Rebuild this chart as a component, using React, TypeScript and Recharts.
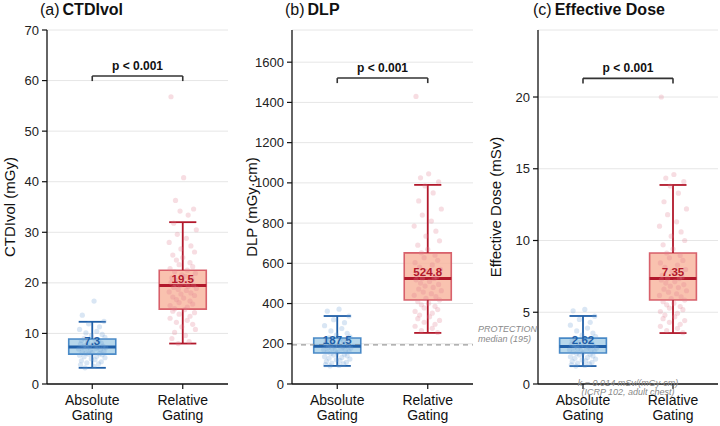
import { ScatterChart, Scatter, XAxis, YAxis, CartesianGrid, ReferenceArea, ReferenceLine, ReferenceDot } from 'recharts';

const groups = ['Absolute Gating', 'Relative Gating'];

// (a) CTDIvol, mGy
const ctdiAbsolute = [16.4, 13.6, 12.4, 11.9, 11.3, 10.8, 10.4, 10.1, 9.8, 9.5, 9.2, 9.0, 8.8, 8.6, 8.5, 8.3, 8.1, 7.9, 7.8, 7.6, 7.5, 7.4, 7.3, 7.3, 7.2, 7.1, 7.0, 6.9, 6.8, 6.7, 6.5, 6.4, 6.2, 6.1, 6.0, 5.9, 5.8, 5.7, 5.5, 5.4, 5.2, 5.0, 4.8, 4.6, 4.4, 4.2, 4.0, 3.8, 3.5, 3.2];
const ctdiRelative = [56.8, 40.8, 36.3, 34.6, 34.2, 33.4, 31.8, 30.5, 29.6, 28.8, 28.0, 27.3, 26.7, 26.1, 25.5, 25.0, 24.5, 24.0, 23.6, 23.2, 22.8, 22.5, 22.2, 21.9, 21.6, 21.3, 21.0, 20.8, 20.5, 20.3, 20.1, 19.9, 19.7, 19.5, 19.5, 19.3, 19.1, 18.9, 18.7, 18.5, 18.2, 18.0, 17.8, 17.5, 17.2, 17.0, 16.7, 16.4, 16.1, 15.8, 15.5, 15.2, 14.9, 14.7, 14.4, 14.1, 13.8, 13.4, 13.0, 12.6, 12.2, 11.8, 11.3, 10.8, 10.2, 9.6, 9.0, 8.4, 8.0];
// min, q1, median, q3, max
const ctdiBoxAbsolute = [3.2, 5.9, 7.3, 8.9, 12.3];
const ctdiBoxRelative = [8.0, 14.8, 19.5, 22.5, 32.0];
const ctdiTicks = [0, 10, 20, 30, 40, 50, 60, 70];

// (b) DLP, mGy·cm
const dlpAbsolute = [372, 362, 338, 320, 305, 290, 276, 264, 252, 243, 235, 229, 224, 218, 212, 207, 202, 198, 194, 191, 188, 187, 185, 182, 179, 176, 173, 170, 167, 164, 161, 158, 155, 152, 148, 144, 140, 136, 132, 128, 124, 120, 116, 112, 108, 104, 100, 96, 92, 90];
const dlpRelative = [1430, 1045, 1025, 1005, 985, 950, 910, 870, 840, 810, 785, 760, 735, 712, 690, 670, 652, 640, 628, 615, 603, 592, 581, 570, 560, 550, 541, 533, 525, 525, 518, 510, 502, 495, 487, 480, 472, 464, 457, 449, 441, 434, 426, 418, 410, 402, 394, 386, 378, 370, 361, 352, 343, 334, 325, 316, 307, 297, 287, 277, 266, 256];
const dlpBoxAbsolute = [90, 154, 187.5, 229, 338];
const dlpBoxRelative = [254, 418, 524.8, 652, 990];
const dlpTicks = [0, 200, 400, 600, 800, 1000, 1200, 1400, 1600];
const dlpProtectionMedian = 195;

// (c) Effective dose, mSv
const edAbsolute = [5.2, 5.1, 4.73, 4.5, 4.3, 4.1, 3.9, 3.7, 3.55, 3.4, 3.3, 3.2, 3.13, 3.05, 2.97, 2.9, 2.83, 2.77, 2.72, 2.67, 2.63, 2.62, 2.59, 2.55, 2.51, 2.46, 2.42, 2.38, 2.34, 2.3, 2.25, 2.21, 2.17, 2.13, 2.07, 2.02, 1.96, 1.9, 1.85, 1.79, 1.74, 1.68, 1.62, 1.57, 1.51, 1.46, 1.4, 1.34, 1.29, 1.25];
const edRelative = [20.0, 14.6, 14.35, 14.1, 13.8, 13.3, 12.7, 12.2, 11.8, 11.3, 11.0, 10.6, 10.3, 10.0, 9.7, 9.4, 9.13, 8.96, 8.79, 8.61, 8.44, 8.29, 8.13, 7.98, 7.84, 7.7, 7.57, 7.46, 7.35, 7.35, 7.25, 7.14, 7.03, 6.93, 6.82, 6.72, 6.61, 6.5, 6.4, 6.29, 6.17, 6.08, 5.96, 5.85, 5.74, 5.63, 5.52, 5.4, 5.29, 5.18, 5.05, 4.93, 4.8, 4.68, 4.55, 4.42, 4.3, 4.16, 4.02, 3.88, 3.72, 3.58];
const edBoxAbsolute = [1.25, 2.16, 2.62, 3.2, 4.74];
const edBoxRelative = [3.55, 5.85, 7.35, 9.13, 13.87];
const edTicks = [0, 5, 10, 15, 20];

// horizontal jitter for the strip points (layout only)
const JITTER = [0.02, -0.11, 0.13, -0.04, 0.08, -0.14, 0.05, -0.07, 0.11, -0.01, 0.14, -0.09, 0.03, -0.12, 0.07, -0.05, 0.1, -0.13, 0.01, -0.08, 0.12, -0.03, 0.06, -0.1, 0.15, -0.06, 0.04, -0.15, 0.09, -0.02, 0.13, -0.11, 0.0, -0.07, 0.08, -0.04, 0.11, -0.14, 0.05, -0.09, 0.14, -0.01, 0.03, -0.12, 0.1, -0.06, 0.07, -0.13, 0.02, -0.08, 0.12, -0.03, 0.06, -0.1, 0.15, -0.05, 0.04, -0.15, 0.09, -0.02, 0.13, -0.11, 0.01, -0.07, 0.08, -0.04, 0.11, -0.14, 0.05, -0.09];

const BLUE = { fill: '#a4cde6', stroke: '#3a7fc2', dark: '#1f5fa8', point: '#6c9fd4' };
const RED = { fill: '#f7b39b', stroke: '#d4525f', dark: '#b2182b', point: '#e07d8e' };
const FONT = '"Liberation Sans", Arial, sans-serif';

const HALF_BOX = 0.26;
const HALF_CAP = 0.15;

function boxElements(x: number, box: number[], c: typeof BLUE, label: string, key: string) {
  const [lo, q1, med, q3, hi] = box;
  return [
    <ReferenceArea key={key + 'box'} x1={x - HALF_BOX} x2={x + HALF_BOX} y1={q1} y2={q3} fill={c.fill} fillOpacity={0.8} stroke={c.stroke} strokeWidth={1.6} strokeOpacity={0.9} />,
    <ReferenceLine key={key + 'wl'} segment={[{ x, y: lo }, { x, y: q1 }]} stroke={c.dark} strokeWidth={1.8} />,
    <ReferenceLine key={key + 'wh'} segment={[{ x, y: q3 }, { x, y: hi }]} stroke={c.dark} strokeWidth={1.8} />,
    <ReferenceLine key={key + 'cl'} segment={[{ x: x - HALF_CAP, y: lo }, { x: x + HALF_CAP, y: lo }]} stroke={c.dark} strokeWidth={1.8} />,
    <ReferenceLine key={key + 'ch'} segment={[{ x: x - HALF_CAP, y: hi }, { x: x + HALF_CAP, y: hi }]} stroke={c.dark} strokeWidth={1.8} />,
    <ReferenceLine key={key + 'md'} segment={[{ x: x - HALF_BOX, y: med }, { x: x + HALF_BOX, y: med }]} stroke={c.dark} strokeWidth={3} />,
    <ReferenceDot key={key + 'lb'} x={x} y={med} r={0} stroke="none" fill="none"
      label={{ value: label, position: 'top', offset: 2.5, fill: c.dark, fontSize: 11.5, fontWeight: 'bold' }} />,
  ];
}

function GroupTick(props: any) {
  const { x, y, payload } = props;
  const [a, b] = groups[payload.value].split(' ');
  return (
    <text x={x} y={y} textAnchor="middle" fontSize={14} fill="#111">
      <tspan x={x} dy={14}>{a}</tspan>
      <tspan x={x} dy={15}>{b}</tspan>
    </text>
  );
}

type PanelProps = {
  left: number;
  width: number;
  yWidth: number;
  marginLeft: number;
  marginRight: number;
  domain: number[];
  ticks: number[];
  absVals: number[];
  relVals: number[];
  absBox: number[];
  relBox: number[];
  labels: string[];
  bracketY: number;
  bracketDrop: number;
  extra?: any;
};

function Panel(p: PanelProps) {
  const absPts = p.absVals.map((v, i) => ({ x: JITTER[i % JITTER.length], y: v }));
  const relPts = p.relVals.map((v, i) => ({ x: 1 + JITTER[(i + 17) % JITTER.length], y: v }));
  return (
    <div style={{ position: 'absolute', left: p.left, top: 0 }}>
      <ScatterChart width={p.width} height={426} margin={{ top: 30, right: p.marginRight, bottom: 6, left: p.marginLeft }}>
        <CartesianGrid vertical={false} stroke="#e6e6e6" strokeWidth={1} />
        <XAxis type="number" dataKey="x" domain={[-0.5, 1.5]} ticks={[0, 1]} interval={0} height={36}
          axisLine={{ stroke: '#111', strokeWidth: 1.3 }} tickLine={{ stroke: '#111', strokeWidth: 1.2 }} tickSize={5}
          tick={<GroupTick />} allowDataOverflow />
        <YAxis type="number" dataKey="y" domain={p.domain} ticks={p.ticks} interval={0} width={p.yWidth}
          axisLine={{ stroke: '#111', strokeWidth: 1.3 }} tickLine={{ stroke: '#111', strokeWidth: 1.2 }} tickSize={5} tickMargin={3}
          tick={{ fill: '#222', fontSize: 13 }} allowDataOverflow />
        {p.extra}
        {boxElements(0, p.absBox, BLUE, p.labels[0], 'a')}
        {boxElements(1, p.relBox, RED, p.labels[1], 'r')}
        <Scatter data={absPts} isAnimationActive={false}
          shape={(s: any) => <circle cx={s.cx} cy={s.cy} r={2.6} fill={BLUE.point} fillOpacity={0.26} />} />
        <Scatter data={relPts} isAnimationActive={false}
          shape={(s: any) => <circle cx={s.cx} cy={s.cy} r={2.6} fill={RED.point} fillOpacity={0.26} />} />
        <ReferenceLine segment={[{ x: 0, y: p.bracketY }, { x: 1, y: p.bracketY }]} stroke="#333" strokeWidth={1.6}
          label={{ value: 'p < 0.001', position: 'top', offset: 6, fill: '#111', fontSize: 12, fontWeight: 'bold' }} />
        <ReferenceLine segment={[{ x: 0, y: p.bracketY }, { x: 0, y: p.bracketY - p.bracketDrop }]} stroke="#333" strokeWidth={1.6} />
        <ReferenceLine segment={[{ x: 1, y: p.bracketY }, { x: 1, y: p.bracketY - p.bracketDrop }]} stroke="#333" strokeWidth={1.6} />
      </ScatterChart>
    </div>
  );
}

export default function App() {
  return (
    <div style={{ position: 'absolute', left: 0, top: 0, width: 720, height: 426, background: '#fff', fontFamily: FONT }}>
      <Panel left={0} width={240} yWidth={40} marginLeft={7} marginRight={12} domain={[0, 70]} ticks={ctdiTicks}
        absVals={ctdiAbsolute} relVals={ctdiRelative} absBox={ctdiBoxAbsolute} relBox={ctdiBoxRelative}
        labels={['7.3', '19.5']} bracketY={60.9} bracketDrop={1} />
      <Panel left={240} width={240} yWidth={45} marginLeft={7} marginRight={7} domain={[0, 1760]} ticks={dlpTicks}
        absVals={dlpAbsolute} relVals={dlpRelative} absBox={dlpBoxAbsolute} relBox={dlpBoxRelative}
        labels={['187.5', '524.8']} bracketY={1521} bracketDrop={25}
        extra={<ReferenceLine y={dlpProtectionMedian} stroke="#9a9a9a" strokeWidth={1.2} strokeDasharray="5 4" />} />
      <Panel left={480} width={240} yWidth={45} marginLeft={13} marginRight={2} domain={[0, 24.67]} ticks={edTicks}
        absVals={edAbsolute} relVals={edRelative} absBox={edBoxAbsolute} relBox={edBoxRelative}
        labels={['2.62', '7.35']} bracketY={21.3} bracketDrop={0.35} />
      <svg width={720} height={426} style={{ position: 'absolute', left: 0, top: 0, pointerEvents: 'none' }}>
        <text x={40} y={15} fontSize={16} fill="#111">(a)<tspan dx={3} fontWeight="bold">CTDIvol</tspan></text>
        <text x={285} y={15} fontSize={16} fill="#111">(b)<tspan dx={3} fontWeight="bold">DLP</tspan></text>
        <text x={533} y={15} fontSize={16} fill="#111">(c)<tspan dx={3} fontWeight="bold">Effective Dose</tspan></text>
        <text transform="translate(15,207) rotate(-90)" textAnchor="middle" fontSize={15} fill="#111">CTDIvol (mGy)</text>
        <text transform="translate(257,207) rotate(-90)" textAnchor="middle" fontSize={15} fill="#111">DLP (mGy·cm)</text>
        <text transform="translate(501,207) rotate(-90)" textAnchor="middle" fontSize={15} fill="#111">Effective Dose (mSv)</text>
        <text x={478} y={332} fontSize={9} fontStyle="italic" fill="#8a8a8a">PROTECTION</text>
        <text x={478} y={342} fontSize={9} fontStyle="italic" fill="#8a8a8a">median (195)</text>
        <text x={628} y={386} textAnchor="middle" fontSize={9} fontStyle="italic" fill="#8a8a8a">k = 0.014 mSv/(mGy·cm)</text>
        <text x={628} y={395} textAnchor="middle" fontSize={9} fontStyle="italic" fill="#8a8a8a">(ICRP 102, adult chest)</text>
      </svg>
    </div>
  );
}
